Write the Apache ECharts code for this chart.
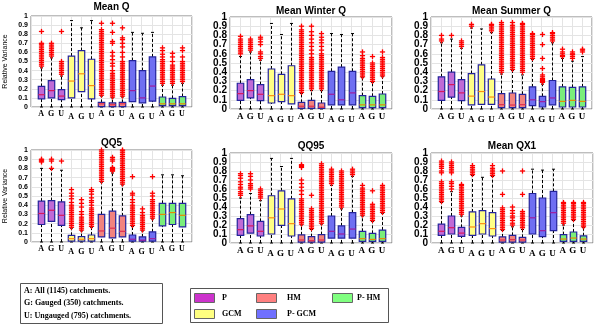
<!DOCTYPE html>
<html><head><meta charset="utf-8">
<script src="https://cdn.jsdelivr.net/npm/echarts@6/dist/echarts.min.js"></script>
<style>html,body{margin:0;padding:0;background:#fff}#c{width:600px;height:326px}</style>
</head><body><div id="c"></div>
<script>
// ---------- data ----------
const boxLetters = ['A','G','U'];
const groupNames = ['P','GCM','HM','P- GCM','P- HM'];
const panelTitles = ['Mean Q','Mean Winter Q','Mean Summer Q','QQ5','QQ95','Mean QX1'];
const yTicks = [0,0.1,0.2,0.3,0.4,0.5,0.6,0.7,0.8,0.9,1];
const yTickLabels = ['0','0.1','0.2','0.3','0.4','0.5','0.6','0.7','0.8','0.9','1'];
const noteLines = ['A: All (1145) catchments.','G: Gauged (350) catchments.','U: Ungauged (795) catchments.'];

// each box: [lower whisker, Q1, median, Q3, upper whisker]
const meanQ_box = [
 [0,0.09,0.135,0.226,0.43],[0,0.10,0.18,0.29,0.54],[0,0.08,0.12,0.19,0.34],
 [0,0.10,0.285,0.56,0.95],[0,0.17,0.365,0.62,0.87],[0,0.09,0.235,0.525,0.95],
 [0,0.005,0.035,0.05,0.12],[0,0.005,0.025,0.045,0.10],[0,0.005,0.035,0.05,0.11],
 [0,0.06,0.18,0.51,0.82],[0,0.045,0.10,0.40,0.81],[0,0.065,0.23,0.55,0.82],
 [0,0.015,0.035,0.11,0.24],[0,0.015,0.035,0.095,0.24],[0,0.015,0.035,0.115,0.26]];
const meanQ_out = [
 [0.45,0.47,0.49,0.51,0.53,0.55,0.57,0.59,0.61,0.63,0.65,0.67,0.69,0.70,0.83],
 [0.56,0.58,0.60,0.62,0.64,0.66,0.68,0.70],
 [0.36,0.38,0.40,0.42,0.44,0.46,0.48,0.50,0.83],
 [],[],[],
 [0.13,0.15,0.17,0.19,0.21,0.23,0.25,0.27,0.29,0.31,0.33,0.35,0.37,0.39,0.41,0.43,0.45,0.47,0.49,0.51,0.53,0.55,0.57,0.59,0.61,0.63,0.65,0.67,0.69,0.71,0.73,0.75,0.77,0.79,0.81,0.83,0.85,0.92],
 [0.11,0.13,0.15,0.17,0.19,0.21,0.23,0.25,0.27,0.29,0.31,0.33,0.35,0.37,0.40,0.45,0.48,0.52,0.56,0.60,0.70,0.72,0.82,0.92],
 [0.12,0.14,0.16,0.18,0.20,0.22,0.24,0.26,0.28,0.30,0.32,0.34,0.36,0.38,0.40,0.42,0.44,0.46,0.48,0.50,0.55,0.60,0.66,0.70,0.74,0.76,0.87],
 [],[],[],
 [0.26,0.28,0.30,0.32,0.34,0.36,0.38,0.40,0.42,0.44,0.46,0.48,0.50,0.52,0.55,0.58,0.62,0.65],
 [0.26,0.28,0.30,0.32,0.34,0.36,0.38,0.40,0.42,0.44,0.46,0.50,0.55,0.59],
 [0.28,0.30,0.32,0.34,0.36,0.38,0.40,0.42,0.44,0.46,0.48,0.50,0.55,0.62,0.65]];

const winterQ_box = [
 [0,0.094,0.167,0.28,0.57],[0,0.12,0.20,0.32,0.62],[0,0.09,0.16,0.265,0.53],
 [0,0.065,0.145,0.435,0.93],[0,0.08,0.16,0.377,0.81],[0,0.055,0.145,0.47,0.93],
 [0,0.007,0.03,0.072,0.17],[0,0.007,0.03,0.094,0.20],[0,0.007,0.02,0.065,0.20],
 [0,0.045,0.16,0.41,0.82],[0,0.045,0.10,0.455,0.81],[0,0.045,0.175,0.41,0.82],
 [0,0.015,0.045,0.145,0.34],[0,0.015,0.045,0.138,0.29],[0,0.015,0.045,0.163,0.35]];
const winterQ_out = [
 [0.60,0.62,0.64,0.66,0.68,0.70,0.72,0.74,0.76,0.79],
 [0.64,0.66,0.68,0.70,0.72,0.74,0.76],
 [0.55,0.57,0.60,0.62,0.70,0.73,0.76,0.78],
 [],[],[],
 [0.18,0.20,0.22,0.24,0.26,0.28,0.30,0.32,0.34,0.36,0.38,0.40,0.42,0.44,0.46,0.48,0.50,0.52,0.54,0.56,0.58,0.60,0.62,0.64,0.66,0.68,0.70,0.72,0.74,0.76,0.78,0.80,0.82,0.84,0.86,0.90],
 [0.22,0.24,0.26,0.28,0.30,0.32,0.34,0.36,0.38,0.40,0.42,0.44,0.46,0.48,0.50,0.52,0.54,0.56,0.60,0.64,0.68,0.72,0.76,0.80,0.84,0.90],
 [0.22,0.24,0.26,0.28,0.30,0.32,0.34,0.36,0.38,0.40,0.42,0.44,0.46,0.48,0.50,0.52,0.54,0.56,0.58,0.60,0.64,0.68,0.72,0.75,0.78,0.82],
 [],[],[],
 [0.35,0.37,0.39,0.41,0.43,0.45,0.47,0.49,0.51,0.53,0.55,0.58,0.62],
 [0.30,0.32,0.34,0.36,0.38,0.40,0.42,0.44,0.46,0.48,0.50,0.57],
 [0.36,0.38,0.40,0.42,0.44,0.46,0.48,0.50,0.52,0.54,0.56,0.62]];

const summerQ_box = [
 [0,0.094,0.19,0.35,0.72],[0,0.13,0.265,0.40,0.76],[0,0.09,0.175,0.32,0.66],
 [0,0.045,0.14,0.385,0.88],[0,0.05,0.19,0.48,0.87],[0,0.05,0.13,0.326,0.83],
 [0,0.015,0.047,0.167,0.38],[0,0.015,0.043,0.174,0.42],[0,0.015,0.047,0.16,0.37],
 [0,0.036,0.10,0.24,0.54],[0,0.022,0.08,0.138,0.27],[0,0.045,0.12,0.31,0.72],
 [0,0.022,0.083,0.24,0.55],[0,0.022,0.094,0.235,0.52],[0,0.022,0.083,0.24,0.57]];
const summerQ_out = [
 [0.74,0.76,0.80],
 [0.80],
 [0.68,0.70,0.72,0.74],
 [0.90,0.92],
 [],
 [0.85,0.87,0.89,0.91,0.92],
 [0.40,0.42,0.44,0.46,0.48,0.50,0.52,0.54,0.56,0.58,0.60,0.62,0.64,0.66,0.68,0.70,0.72,0.74,0.76,0.78,0.80,0.82,0.84,0.86,0.88,0.90,0.92,0.94],
 [0.43,0.45,0.47,0.49,0.51,0.53,0.55,0.57,0.59,0.61,0.63,0.65,0.67,0.69,0.71,0.73,0.75,0.77,0.79,0.81,0.83,0.85,0.87,0.89,0.91,0.94],
 [0.40,0.42,0.44,0.46,0.48,0.50,0.52,0.54,0.56,0.58,0.60,0.62,0.64,0.66,0.68,0.70,0.72,0.74,0.76,0.78,0.80,0.82,0.84,0.86,0.88,0.90,0.92,0.93],
 [0.55,0.57,0.59,0.61,0.63,0.65,0.67,0.69,0.71,0.73,0.75,0.77,0.79,0.81,0.82],
 [0.29,0.30,0.31,0.32,0.33,0.35,0.37,0.44,0.55,0.70,0.81],
 [0.74,0.76,0.78,0.80,0.82,0.83],
 [0.57,0.58,0.60,0.62,0.65],
 [0.55,0.57,0.59,0.60,0.62],
 [0.62,0.64,0.65]];

const qq5_box = [
 [0,0.19,0.31,0.444,0.80],[0,0.225,0.345,0.45,0.79],[0,0.18,0.29,0.436,0.78],
 [0,0.01,0.036,0.073,0.15],[0,0.01,0.03,0.058,0.12],[0,0.01,0.036,0.076,0.16],
 [0,0.055,0.12,0.30,0.65],[0,0.044,0.15,0.335,0.75],[0,0.055,0.116,0.284,0.62],
 [0,0.01,0.03,0.076,0.17],[0,0.01,0.02,0.055,0.12],[0,0.01,0.036,0.11,0.25],
 [0,0.175,0.30,0.42,0.73],[0,0.19,0.32,0.42,0.73],[0,0.164,0.29,0.42,0.72]];
const qq5_out = [
 [0.87,0.88,0.89,0.90],
 [0.80,0.88,0.90],
 [0.88],
 [0.16,0.18,0.20,0.22,0.24,0.26,0.28,0.30,0.32,0.34,0.36,0.38,0.40,0.43,0.47,0.50,0.53,0.57],
 [0.13,0.15,0.17,0.19,0.21,0.23,0.25,0.27,0.30,0.33,0.38,0.42,0.46],
 [0.17,0.19,0.21,0.23,0.25,0.27,0.29,0.31,0.33,0.35,0.37,0.40,0.43,0.45,0.48,0.52,0.55,0.57],
 [0.66,0.68,0.70,0.72,0.74,0.76,0.78,0.80,0.82,0.84,0.86,0.88,0.90,0.92,0.94,0.96,0.98,1.00],
 [0.77,0.78,0.79,0.80,0.81,0.88,0.90,0.92],
 [0.63,0.65,0.67,0.69,0.71,0.73,0.75,0.77,0.79,0.81,0.83,0.85,0.87,0.89,0.91,0.93,0.95,0.97,0.99,1.00],
 [0.18,0.20,0.22,0.24,0.26,0.28,0.30,0.32,0.34,0.36,0.38,0.40,0.43,0.46,0.51,0.53,0.71],
 [0.13,0.15,0.17,0.19,0.21,0.23,0.25,0.27,0.29,0.32,0.36],
 [0.26,0.28,0.30,0.32,0.34,0.36,0.38,0.40,0.42,0.44,0.46,0.50,0.53,0.71],
 [],[],[]];

const qq95_box = [
 [0,0.085,0.148,0.27,0.50],[0,0.11,0.19,0.315,0.55],[0,0.078,0.13,0.24,0.47],
 [0,0.10,0.28,0.525,0.94],[0,0.196,0.378,0.58,0.85],[0,0.078,0.215,0.49,0.94],
 [0,0.01,0.033,0.09,0.20],[0,0.01,0.026,0.07,0.15],[0,0.01,0.033,0.093,0.21],
 [0,0.055,0.13,0.30,0.64],[0,0.055,0.10,0.19,0.38],[0,0.055,0.155,0.337,0.74],
 [0,0.018,0.048,0.13,0.30],[0,0.018,0.04,0.107,0.24],[0,0.018,0.048,0.144,0.33]];
const qq95_out = [
 [0.53,0.55,0.57,0.60,0.62,0.65,0.68,0.72,0.75,0.77],
 [0.60,0.62,0.64,0.66,0.70,0.74,0.77],
 [0.50,0.52,0.54,0.56,0.58,0.60],
 [],[],[],
 [0.21,0.23,0.25,0.27,0.29,0.31,0.33,0.35,0.37,0.39,0.41,0.43,0.45,0.47,0.49,0.54,0.58,0.62,0.66,0.70,0.84,0.85,0.86,0.87],
 [0.16,0.18,0.20,0.22,0.24,0.26,0.28,0.30,0.32,0.34,0.36,0.38,0.53],
 [0.22,0.24,0.26,0.28,0.30,0.32,0.34,0.36,0.38,0.40,0.42,0.44,0.46,0.48,0.50,0.52,0.54,0.56,0.58,0.60,0.62,0.64,0.66,0.68,0.70,0.72,0.74,0.76,0.78,0.80,0.82,0.84,0.86,0.88],
 [0.66,0.68,0.70,0.72,0.74,0.76,0.78,0.80,0.82],
 [0.40,0.42,0.44,0.46,0.48,0.50,0.52,0.54,0.56,0.58,0.60,0.62,0.64,0.66,0.68,0.70,0.72,0.74,0.76,0.78,0.80],
 [0.76,0.78,0.80,0.82],
 [0.31,0.33,0.35,0.37,0.39,0.41,0.43,0.45,0.47,0.49,0.51,0.53,0.55,0.57,0.59,0.61,0.64],
 [0.25,0.27,0.29,0.31,0.33,0.35,0.37,0.39,0.41,0.43,0.58],
 [0.34,0.36,0.38,0.40,0.42,0.44,0.46,0.48,0.50,0.52,0.54,0.56,0.58,0.60,0.62,0.64]];

const qx1_box = [
 [0,0.085,0.13,0.21,0.45],[0,0.10,0.17,0.30,0.57],[0,0.074,0.11,0.174,0.30],
 [0,0.085,0.178,0.345,0.75],[0,0.10,0.215,0.36,0.73],[0,0.078,0.16,0.337,0.74],
 [0,0.01,0.033,0.067,0.14],[0,0.01,0.037,0.085,0.18],[0,0.01,0.033,0.063,0.15],
 [0,0.10,0.28,0.55,0.82],[0,0.07,0.137,0.50,0.81],[0,0.137,0.337,0.574,0.82],
 [0,0.018,0.044,0.093,0.20],[0,0.018,0.055,0.122,0.25],[0,0.018,0.044,0.08,0.17]];
const qx1_out = [
 [0.46,0.48,0.50,0.52,0.54,0.56,0.58,0.60,0.62,0.64,0.66,0.68,0.78,0.80,0.83,0.85,0.87,0.89,0.91],
 [0.60,0.63,0.66,0.68,0.78,0.80,0.82,0.84,0.86,0.88,0.90],
 [0.32,0.34,0.36,0.38,0.40,0.42,0.44,0.46,0.48,0.50,0.52,0.54,0.56,0.58,0.60,0.62,0.64,0.65],
 [0.76,0.78,0.80,0.82,0.84,0.86],
 [],
 [0.75,0.77,0.79,0.81,0.83,0.86],
 [0.15,0.17,0.19,0.21,0.23,0.25,0.27,0.29,0.31,0.33,0.35,0.37,0.39,0.54,0.80],
 [0.20,0.22,0.25,0.28,0.30,0.33,0.36,0.40],
 [0.17,0.19,0.21,0.23,0.25,0.27,0.29,0.31,0.33,0.35,0.54,0.80],
 [],[],[],
 [0.22,0.24,0.26,0.28,0.30,0.32,0.34,0.36,0.38,0.40,0.42,0.44,0.45],
 [0.26,0.28,0.30,0.32,0.34,0.36,0.38,0.40,0.42,0.44,0.45],
 [0.18,0.20,0.22,0.24,0.26,0.28,0.30,0.32,0.34,0.36,0.38,0.40,0.42,0.44,0.45]];

const panelBoxes = [meanQ_box, winterQ_box, summerQ_box, qq5_box, qq95_box, qx1_box];
const panelOutliers = [meanQ_out, winterQ_out, summerQ_out, qq5_out, qq95_out, qx1_out];

// ---------- styles / layout ----------
const boxFill = ['#c06ad6','#ffff85','#f2837e','#6f6ff2','#7aee7a'];
const medColor = ['#d8185e','#ff8c10','#e03050','#a01c9c','#e88a00'];
const swatchFill = ['#cc33cc','#ffff80','#ff8080','#7070ff','#80ff80'];
const layout = [
 {left:31, top:16, width:161, height:91, small:true,  titleY:8},
 {left:230,top:17, width:162, height:92, small:false, titleY:12},
 {left:431,top:17, width:161, height:92, small:false, titleY:12},
 {left:31, top:150,width:161, height:92, small:true,  titleY:144},
 {left:230,top:153,width:162, height:90, small:false, titleY:147},
 {left:431,top:153,width:162, height:90, small:false, titleY:147}
];

const grids=[], xAxes=[], yAxes=[], series=[], titles=[];
layout.forEach((L, p) => {
  grids.push({left:L.left, top:L.top, width:L.width, height:L.height, show:true,
    borderColor:'#7c7c7c', borderWidth:1, backgroundColor:'#fff'});
  const fs = L.small ? 8 : 9;
  xAxes.push({type:'value', gridIndex:p, min:0, max:16, interval:1,
    axisLine:{show:false}, axisTick:{show:false},
    splitLine:{show:true, lineStyle:{color:'#e4e4e4', width:1}},
    axisLabel:{margin:3, interval:0, hideOverlap:false, formatter:(v)=>{
      if (v<1 || v>15) return '';
      const i = v-1; const lt = boxLetters[i%3];
      return (Math.floor(i/3)%2===1) ? '{lo|'+lt+'}' : '{hi|'+lt+'}';
    }, rich:{
      hi:{fontFamily:'Liberation Serif', fontWeight:'bold', fontSize:fs, color:'#000'},
      lo:{fontFamily:'Liberation Serif', fontWeight:'bold', fontSize:fs, color:'#000', padding:[3,0,0,0]}
    }}});
  yAxes.push({type:'value', gridIndex:p, min:0, max:1, interval:0.1,
    axisLine:{show:false}, axisTick:{show:false},
    splitLine:{show:true, lineStyle:{color:'#e4e4e4', width:1}},
    name: L.small ? 'Relative Variance' : '', nameLocation:'middle', nameRotate:90, nameGap:22,
    nameTextStyle:{fontFamily:'Liberation Sans', fontSize:7, color:'#000'},
    axisLabel:{show:false}});
  titles.push({text:panelTitles[p], left:L.left+L.width/2, top:L.titleY-6, textAlign:'center', padding:0,
    textStyle:{fontFamily:'Liberation Sans', fontWeight:'bold', fontSize:10, color:'#000'}});

  // y tick labels drawn through the y scale (dense ticks would be hidden by auto overlap removal)
  const yfs = L.small ? 7 : 10;
  series.push({type:'custom', xAxisIndex:p, yAxisIndex:p, clip:false, silent:true, z:5,
    data: yTicks.map((v,i)=>[0, v, i]),
    renderItem:(params, api)=>{
      const c = api.coord([0, api.value(1)]);
      return {type:'text', x:c[0]-3, y:c[1], style:{text:yTickLabels[api.value(2)], align:'right', verticalAlign:'middle',
        font:'bold '+yfs+'px "Liberation Sans"', fill:'#000'}};
    }});

  const boxData = panelBoxes[p].map((b,i)=>[i+1, b[0], b[1], b[2], b[3], b[4], Math.floor(i/3)]);
  series.push({type:'custom', xAxisIndex:p, yAxisIndex:p, data:boxData, z:3, silent:true,
    renderItem:(params, api)=>{
      const x = api.value(0), g = api.value(6);
      const lo = api.coord([x, api.value(1)]), q1 = api.coord([x, api.value(2)]);
      const md = api.coord([x, api.value(3)]), q3 = api.coord([x, api.value(4)]);
      const hi = api.coord([x, api.value(5)]);
      const half = api.size([0.64,0])[0]/2, cap = api.size([0.3,0])[0]/2;
      const cx = Math.round(lo[0])+0.5;
      return {type:'group', children:[
        {type:'line', shape:{x1:cx,y1:q3[1],x2:cx,y2:hi[1]}, style:{stroke:'#000',lineWidth:1,lineDash:[3,2]}},
        {type:'line', shape:{x1:cx,y1:lo[1],x2:cx,y2:q1[1]}, style:{stroke:'#000',lineWidth:1,lineDash:[3,2]}},
        {type:'line', shape:{x1:cx-cap,y1:hi[1],x2:cx+cap,y2:hi[1]}, style:{stroke:'#000',lineWidth:1}},
        {type:'line', shape:{x1:cx-cap,y1:lo[1],x2:cx+cap,y2:lo[1]}, style:{stroke:'#000',lineWidth:1}},
        {type:'rect', shape:{x:cx-half,y:q3[1],width:2*half,height:Math.max(q1[1]-q3[1],1)},
          style:{fill:boxFill[g], stroke:'#24249c', lineWidth:1.2}},
        {type:'line', shape:{x1:cx-half,y1:md[1],x2:cx+half,y2:md[1]}, style:{stroke:medColor[g],lineWidth:1.2}}
      ]};
    }});
  const outData = [];
  panelOutliers[p].forEach((arr,i)=>arr.forEach(v=>outData.push([i+1, v])));
  series.push({type:'custom', xAxisIndex:p, yAxisIndex:p, data:outData, z:4, silent:true,
    renderItem:(params, api)=>{
      const c = api.coord([api.value(0), api.value(1)]);
      const s = 2.6, cx = Math.round(c[0])+0.5;
      return {type:'group', children:[
        {type:'line', shape:{x1:cx-s,y1:c[1],x2:cx+s,y2:c[1]}, style:{stroke:'#ff0000',lineWidth:1.3}},
        {type:'line', shape:{x1:cx,y1:c[1]-s,x2:cx,y2:c[1]+s}, style:{stroke:'#ff0000',lineWidth:1.3}}
      ]};
    }});
});

// legends (graphic)
const serifBold = 'bold 8px "Liberation Serif"';
const graphics = [];
graphics.push({type:'rect', left:20, top:283, shape:{width:142, height:40}, style:{fill:'#fff', stroke:'#555', lineWidth:1}});
noteLines.forEach((t,i)=>graphics.push({type:'text', left:24, top:286.5+i*12.5, style:{text:t, font:serifBold, fill:'#000'}}));
graphics.push({type:'rect', left:190, top:288, shape:{width:198, height:34}, style:{fill:'#fff', stroke:'#555', lineWidth:1}});
const legPos = [[194,293,222],[194,309,222],[256,293,287],[256,309,287],[332,293,357]]; // P, GCM, HM, P-GCM, P-HM
groupNames.forEach((nm,g)=>{
  const pos = legPos[g];
  graphics.push({type:'rect', left:pos[0], top:pos[1], shape:{width:20, height:9}, style:{fill:swatchFill[g], stroke:'#666', lineWidth:1}});
  graphics.push({type:'text', left:pos[2], top:pos[1]+0.5, style:{text:nm, font:serifBold, fill:'#000'}});
});

const chart = echarts.init(document.getElementById('c'), null, {renderer:'canvas'});
chart.setOption({animation:false, backgroundColor:'#fff', title:titles, grid:grids, xAxis:xAxes, yAxis:yAxes, series:series, graphic:graphics});
</script></body></html>
